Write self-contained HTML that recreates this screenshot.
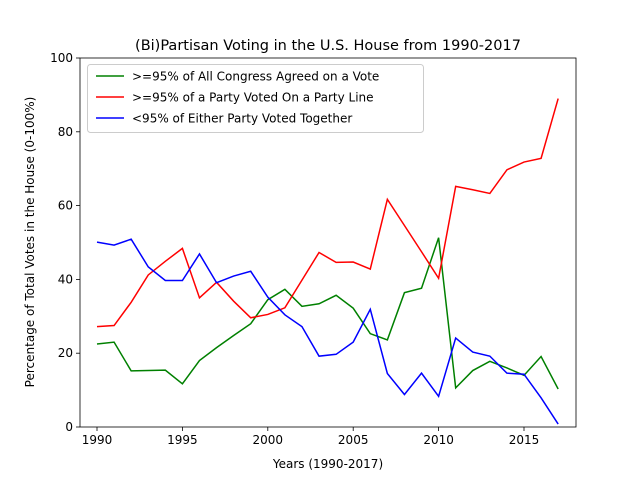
<!DOCTYPE html>
<html><head><meta charset="utf-8"><style>
body{margin:0;background:#fff;}
svg text{font-family:"DejaVu Sans","Liberation Sans",sans-serif;fill:#000;}
</style></head><body>
<svg id="chart" width="640" height="480" xmlns="http://www.w3.org/2000/svg">
<rect width="640" height="480" fill="#fff"/>
<text x="328" y="50" font-size="14.5" text-anchor="middle">(Bi)Partisan Voting in the U.S. House from 1990-2017</text>
<g id="plot"></g>
<text x="328" y="468" font-size="12" text-anchor="middle">Years (1990-2017)</text>
<text transform="translate(34,242) rotate(-90)" font-size="12" text-anchor="middle">Percentage of Total Votes in the House (0-100%)</text>
</svg>
<script>
const years=[1990,1991,1992,1993,1994,1995,1996,1997,1998,1999,2000,2001,2002,2003,2004,2005,2006,2007,2008,2009,2010,2011,2012,2013,2014,2015,2016,2017];
const greenVals=[22.5,23,15.2,15.3,15.4,11.7,18,21.5,24.8,28,34.5,37.3,32.7,33.4,35.7,32.2,25.3,23.6,36.4,37.6,51.3,10.6,15.3,17.8,16,14,19.1,10.3];
const redVals=[27.2,27.5,33.8,41.2,44.9,48.4,35,39.2,34.1,29.6,30.5,32.3,39.8,47.3,44.6,44.7,42.8,61.7,54.6,47.5,40.3,65.2,64.3,63.3,69.7,71.8,72.8,89];
const blueVals=[50.1,49.3,50.9,43.4,39.7,39.7,46.9,39.1,40.9,42.2,35.2,30.4,27.2,19.2,19.7,23,31.9,14.5,8.8,14.6,8.3,24.1,20.3,19.2,14.6,14.3,7.9,0.8];
const xTicks=[1990,1995,2000,2005,2010,2015];
const yTicks=[0,20,40,60,80,100];
const seriesNames=[">=95% of All Congress Agreed on a Vote",">=95% of a Party Voted On a Party Line","<95% of Either Party Voted Together"];
const L=80,R=576,T=58,B=427;
const xs=y=>97+(y-1990)*(524-97)/25;
const ys=v=>B-(v/100)*(B-T);
const NS="http://www.w3.org/2000/svg";
const g=document.getElementById('plot');
function mk(t,a){const e=document.createElementNS(NS,t);for(const k in a)e.setAttribute(k,a[k]);g.appendChild(e);return e;}
xTicks.forEach(t=>{
 const l=mk('line',{x1:xs(t),x2:xs(t),y1:B,y2:B+4,stroke:'#000','stroke-width':0.8});
 
 
 const tx=mk('text',{x:xs(t),y:B+17,'font-size':12,'text-anchor':'middle'});tx.textContent=t;
 
 
});
yTicks.forEach(t=>{
 const l=mk('line',{x1:L-4,x2:L,y1:ys(t),y2:ys(t),stroke:'#000','stroke-width':0.8});
 
 
 const tx=mk('text',{x:L-7,y:ys(t)+4,'font-size':12,'text-anchor':'end'});tx.textContent=t;
 
 
});
const series=[[greenVals,'#008000','green-series'],[redVals,'#ff0000','red-series'],[blueVals,'#0000ff','blue-series']];
series.forEach(([vals,c,n])=>{
 const p=mk('polyline',{points:vals.map((v,i)=>xs(years[i])+','+ys(v)).join(' '),fill:'none',stroke:c,'stroke-width':1.5});
 
 
});
const fr=mk('rect',{x:L,y:T,width:R-L,height:B-T,fill:'none',stroke:'#000','stroke-width':0.8});


const lg=mk('rect',{x:87.5,y:64.5,width:336,height:68,fill:'#fff','fill-opacity':0.8,stroke:'#ccc',rx:3});


series.forEach(([v,c,n],i)=>{
 const y=76+i*21;
 const l=mk('line',{x1:96,x2:124,y1:y,y2:y,stroke:c,'stroke-width':1.5});
 
 
 const t=mk('text',{x:132,y:y+4.5,'font-size':12});t.textContent=seriesNames[i];
 
 
});
</script>
</body></html>
